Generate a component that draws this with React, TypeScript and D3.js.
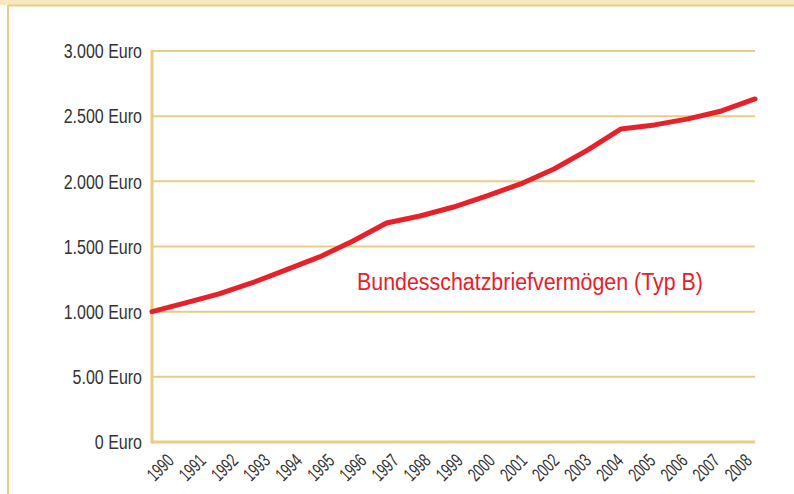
import * as d3 from "d3";

const years = [
  "1990", "1991", "1992", "1993", "1994", "1995", "1996", "1997", "1998", "1999",
  "2000", "2001", "2002", "2003", "2004", "2005", "2006", "2007", "2008",
];
const vermoegen = [
  1000, 1067, 1136, 1222, 1320, 1420, 1542, 1680, 1734, 1803,
  1888, 1980, 2095, 2240, 2402, 2433, 2479, 2540, 2632,
];
const yTicks = [0, 500, 1000, 1500, 2000, 2500, 3000];
const yTickLabels = ["0 Euro", "5.00 Euro", "1.000 Euro", "1.500 Euro", "2.000 Euro", "2.500 Euro", "3.000 Euro"];
const seriesName = "Bundesschatzbriefvermögen (Typ B)";

const width = 794;
const height = 494;
// no condensed face installed, so Liberation Sans gets squeezed horizontally
const font = "'Liberation Sans', Arial, sans-serif";
const squeeze = 0.8;
const gold = "#e9cd86";
const red = "#e8202a";

export default function App() {
  const x = d3.scalePoint().domain(years).range([152, 755]);
  // year labels sit on a slightly narrower spacing than the points
  const xLabel = d3.scalePoint().domain(years).range([175, 753]);
  const y = d3.scaleLinear().domain([0, 3000]).range([442, 51]);

  const line = d3
    .line<number>()
    .x((d, i) => x(years[i]) as number)
    .y((d) => y(d));

  return (
    <svg
      width={width}
      height={height}
      style={{ position: "absolute", left: 0, top: 0, background: "#fff" }}
    >
      {/* frame */}
      <rect x={0} y={0} width={width} height={5} fill="#f9e7c0" />
      <line x1={8} x2={width} y1={5.5} y2={5.5} stroke={gold} strokeWidth={2} />
      <line x1={8} x2={8} y1={5} y2={height} stroke={gold} strokeWidth={2} />

      {/* grid */}
      {yTicks.map((t, i) => (
        <g key={t}>
          <line
            x1={152}
            x2={755}
            y1={y(t)}
            y2={y(t)}
            stroke={gold}
            strokeWidth={t === 0 ? 3 : 2}
          />
          <text
            transform={`translate(142, ${y(t)}) scale(${squeeze}, 1)`}
            dy="0.36em"
            textAnchor="end"
            fontFamily={font}
            fontSize={20}
            fill="#333"
          >
            {yTickLabels[i]}
          </text>
        </g>
      ))}
      <line x1={152} x2={152} y1={y(3000) - 1} y2={y(0) + 1.5} stroke={gold} strokeWidth={3} />

      {/* year labels */}
      {years.map((yr) => (
        <text
          key={yr}
          transform={`translate(${xLabel(yr)}, 462) rotate(-45) scale(0.68, 1)`}
          textAnchor="end"
          fontFamily={font}
          fontSize={19}
          fill="#333"
        >
          {yr}
        </text>
      ))}

      <path
        d={line(vermoegen) || ""}
        fill="none"
        stroke={red}
        strokeWidth={5}
        strokeLinejoin="round"
        strokeLinecap="round"
      />

      <text
        x={357}
        y={290}
        fontFamily={font}
        fontSize={23.5}
        fill={red}
        textLength={346}
        lengthAdjust="spacingAndGlyphs"
      >
        {seriesName}
      </text>
    </svg>
  );
}
